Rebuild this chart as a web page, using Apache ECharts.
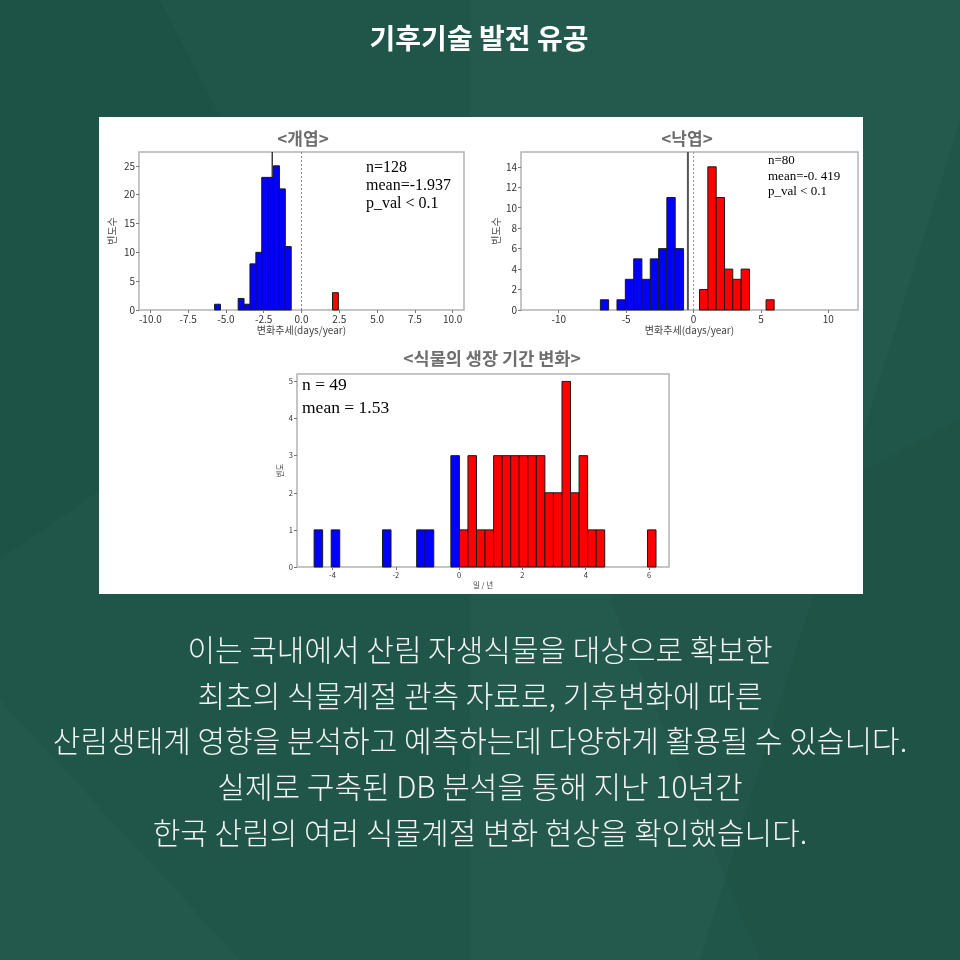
<!DOCTYPE html>
<html><head><meta charset="utf-8">
<script src="https://cdn.jsdelivr.net/npm/echarts@6/dist/echarts.min.js"></script>
<style>html,body{margin:0;padding:0;background:#1f5649}#c{width:960px;height:960px}</style>
</head><body><div id="c"></div>
<script>
// ---------- <개엽> (leaf-out) ----------
const leafOutBlueStart = [-5.75, -4.19, -3.80, -3.41, -3.02, -2.63, -2.24, -1.85, -1.46, -1.07];
const leafOutBlueEnd   = [-5.36, -3.80, -3.41, -3.02, -2.63, -2.24, -1.85, -1.46, -1.07, -0.68];
const leafOutBlueCount = [1, 2, 1, 8, 10, 23, 23, 25, 21, 11];
const leafOutRedStart  = [2.05];
const leafOutRedEnd    = [2.44];
const leafOutRedCount  = [3];
const leafOutMean = -1.937;
const leafOutXTicks = [-10, -7.5, -5, -2.5, 0, 2.5, 5, 7.5, 10];
const leafOutYTicks = [0, 5, 10, 15, 20, 25];
const leafOutStats = ['n=128', 'mean=-1.937', 'p_val < 0.1'];

// ---------- <낙엽> (leaf-fall) ----------
const leafFallBlueStart = [-6.91, -5.68, -5.06, -4.44, -3.83, -3.21, -2.59, -1.98, -1.36];
const leafFallBlueEnd   = [-6.30, -5.06, -4.44, -3.83, -3.21, -2.59, -1.98, -1.36, -0.74];
const leafFallBlueCount = [1, 1, 3, 5, 3, 5, 6, 11, 6];
const leafFallRedStart  = [0.44, 1.06, 1.68, 2.30, 2.91, 3.53, 5.38];
const leafFallRedEnd    = [1.06, 1.68, 2.30, 2.91, 3.53, 4.15, 5.98];
const leafFallRedCount  = [2, 14, 11, 4, 3, 4, 1];
const leafFallMean = -0.419;
const leafFallXTicks = [-10, -5, 0, 5, 10];
const leafFallYTicks = [0, 2, 4, 6, 8, 10, 12, 14];
const leafFallStats = ['n=80', 'mean=-0. 419', 'p_val < 0.1'];

// ---------- <식물의 생장 기간 변화> (growing season) ----------
const growBlueStart = [-4.58, -4.04, -2.42, -1.34, -1.07, -0.26];
const growBlueEnd   = [-4.31, -3.77, -2.15, -1.07, -0.80, 0.01];
const growBlueCount = [1, 1, 1, 1, 1, 3];
const growRedStart  = [0.01, 0.28, 0.55, 0.82, 1.09, 1.36, 1.63, 1.90, 2.17, 2.44, 2.71, 2.98, 3.25, 3.52, 3.79, 4.06, 4.33, 5.95];
const growRedEnd    = [0.28, 0.55, 0.82, 1.09, 1.36, 1.63, 1.90, 2.17, 2.44, 2.71, 2.98, 3.25, 3.52, 3.79, 4.06, 4.33, 4.60, 6.22];
const growRedCount  = [1, 3, 1, 1, 3, 3, 3, 3, 3, 3, 2, 2, 5, 2, 3, 1, 1, 1];
const growXTicks = [-4, -2, 0, 2, 4, 6];
const growYTicks = [0, 1, 2, 3, 4, 5];
const growStats = ['n = 49', 'mean = 1.53'];

// ---------- page text ----------
const pageTitle = '기후기술 발전 유공';
const bodyLines = [
  '이는 국내에서 산림 자생식물을 대상으로 확보한',
  '최초의 식물계절 관측 자료로, 기후변화에 따른',
  '산림생태계 영향을 분석하고 예측하는데 다양하게 활용될 수 있습니다.',
  '실제로 구축된 DB 분석을 통해 지난 10년간',
  '한국 산림의 여러 식물계절 변화 현상을 확인했습니다.'
];

const KR = '"Noto Sans CJK KR", "Noto Sans", sans-serif';
const SERIF = '"Liberation Serif", "DejaVu Serif", serif';

function zip3(a, b, c) { return a.map((v, i) => [v, b[i], c[i]]); }

function barRender(color) {
  return function (params, api) {
    const p0 = api.coord([api.value(0), api.value(2)]);
    const p1 = api.coord([api.value(1), 0]);
    return {
      type: 'rect',
      shape: { x: p0[0], y: p0[1], width: p1[0] - p0[0], height: p1[1] - p0[1] },
      style: { fill: color, stroke: '#1a1a1a', lineWidth: 1 }
    };
  };
}
function vlineRender(color, width, dash) {
  return function (params, api) {
    const cs = params.coordSys;
    const x = api.coord([api.value(0), 0])[0];
    return {
      type: 'line',
      shape: { x1: x, y1: cs.y, x2: x, y2: cs.y + cs.height },
      style: { stroke: color, lineWidth: width, lineDash: dash }
    };
  };
}

function xAxisCfg(gi, min, max, ticks, fmt, fs, name, gap) {
  return {
    type: 'value', gridIndex: gi, min: min, max: max, z: 6, position: 'bottom',
    splitLine: { show: false },
    axisLine: { show: false, onZero: false },
    axisTick: { show: true, inside: false, length: 3, customValues: ticks, lineStyle: { color: '#777' } },
    axisLabel: { show: true, customValues: ticks, formatter: fmt, fontSize: fs, color: '#333', margin: 4, fontFamily: KR },
    name: name, nameLocation: 'middle', nameGap: gap,
    nameTextStyle: { fontSize: fs, color: '#444', fontFamily: KR }
  };
}
function yAxisCfg(gi, max, ticks, fs, name, gap) {
  return {
    type: 'value', gridIndex: gi, min: 0, max: max, z: 6, position: 'left',
    splitLine: { show: false },
    axisLine: { show: false, onZero: false },
    axisTick: { show: true, inside: false, length: 3, customValues: ticks, lineStyle: { color: '#777' } },
    axisLabel: { show: true, customValues: ticks, fontSize: fs, color: '#333', margin: 4, fontFamily: KR },
    name: name, nameLocation: 'middle', nameGap: gap, nameRotate: 90,
    nameTextStyle: { fontSize: fs, color: '#444', fontFamily: KR }
  };
}

const frame = { show: true, borderColor: '#b3b3b3', borderWidth: 1.5, backgroundColor: '#fff' };

const graphics = [];
// background facets
const facets = [
  [[0, 0], [160, 0], [330, 330], [0, 560]],
  [[470, 0], [960, 0], [960, 120], [700, 960], [470, 960]],
  [[1305, 0], [960, 0], [960, 330]],
  [[0, 700], [240, 960], [0, 960]],
  [[610, 600], [960, 420], [960, 960], [760, 960]]
];
const facetFills = ['rgba(0,0,0,0.04)', 'rgba(255,255,255,0.025)', 'rgba(0,0,0,0.04)', 'rgba(255,255,255,0.02)', 'rgba(0,0,0,0.03)'];
facets.forEach((pts, i) => graphics.push({ type: 'polygon', shape: { points: pts }, style: { fill: facetFills[i] }, z: -20, silent: true }));
// white panel
graphics.push({ type: 'rect', shape: { x: 99, y: 117, width: 764, height: 477 }, style: { fill: '#ffffff' }, z: -10, silent: true });
// page title
graphics.push({ type: 'text', x: 479, y: 38, style: { text: pageTitle, fill: '#ffffff', font: 'bold 28px ' + KR, textAlign: 'center', textVerticalAlign: 'middle' }, z: 5 });
// body lines
const bodyY = [650, 696, 741, 787, 833];
bodyLines.forEach((t, i) => graphics.push({ type: 'text', x: 480, y: bodyY[i], style: { text: t, fill: '#f4f4f4', font: '300 30px ' + KR, textAlign: 'center', textVerticalAlign: 'middle' }, z: 5 }));
// chart titles
graphics.push({ type: 'text', x: 303, y: 139, style: { text: '<개엽>', fill: '#6e6e6e', font: 'bold 17px ' + KR, textAlign: 'center', textVerticalAlign: 'middle' }, z: 5 });
graphics.push({ type: 'text', x: 687, y: 139, style: { text: '<낙엽>', fill: '#6e6e6e', font: 'bold 17px ' + KR, textAlign: 'center', textVerticalAlign: 'middle' }, z: 5 });
graphics.push({ type: 'text', x: 492, y: 358, style: { text: '<식물의 생장 기간 변화>', fill: '#6e6e6e', font: 'bold 17.5px ' + KR, textAlign: 'center', textVerticalAlign: 'middle' }, z: 5 });
// stats
leafOutStats.forEach((t, i) => graphics.push({ type: 'text', x: 366, y: 168 + i * 18, style: { text: t, fill: '#000', font: '16px ' + SERIF, textAlign: 'left', textVerticalAlign: 'middle' }, z: 20 }));
leafFallStats.forEach((t, i) => graphics.push({ type: 'text', x: 768, y: 161 + i * 15.5, style: { text: t, fill: '#000', font: '13px ' + SERIF, textAlign: 'left', textVerticalAlign: 'middle' }, z: 20 }));
growStats.forEach((t, i) => graphics.push({ type: 'text', x: 302, y: 385 + i * 23, style: { text: t, fill: '#000', font: '17.5px ' + SERIF, textAlign: 'left', textVerticalAlign: 'middle' }, z: 20 }));

const option = {
  animation: false,
  backgroundColor: '#1f5649',
  graphic: graphics,
  grid: [
    Object.assign({ left: 139, top: 152, width: 325, height: 158 }, frame),
    Object.assign({ left: 521, top: 152, width: 337, height: 158 }, frame),
    Object.assign({ left: 297, top: 374, width: 372, height: 193 }, frame)
  ],
  xAxis: [
    xAxisCfg(0, -10.75, 10.75, leafOutXTicks, v => v.toFixed(1), 10, '변화추세(days/year)', 14),
    xAxisCfg(1, -12.8, 12.2, leafFallXTicks, v => String(v), 10, '변화추세(days/year)', 14),
    xAxisCfg(2, -5.12, 6.63, growXTicks, v => String(v), 7.5, '일 / 년', 14)
  ],
  yAxis: [
    yAxisCfg(0, 27.4, leafOutYTicks, 10, '빈도수', 22),
    yAxisCfg(1, 15.45, leafFallYTicks, 10, '빈도수', 20),
    yAxisCfg(2, 5.2, growYTicks, 7.5, '빈도', 13)
  ],
  series: [
    { type: 'custom', xAxisIndex: 0, yAxisIndex: 0, z: 3, renderItem: vlineRender('#111', 1.2, null), data: [[leafOutMean, 0]] },
    { type: 'custom', xAxisIndex: 0, yAxisIndex: 0, z: 3, renderItem: vlineRender('#888', 1, [2, 2]), data: [[0, 0]] },
    { type: 'custom', xAxisIndex: 0, yAxisIndex: 0, z: 4, renderItem: barRender('#0000ff'), encode: { x: [0, 1], y: 2 }, data: zip3(leafOutBlueStart, leafOutBlueEnd, leafOutBlueCount) },
    { type: 'custom', xAxisIndex: 0, yAxisIndex: 0, z: 4, renderItem: barRender('#ff0000'), encode: { x: [0, 1], y: 2 }, data: zip3(leafOutRedStart, leafOutRedEnd, leafOutRedCount) },

    { type: 'custom', xAxisIndex: 1, yAxisIndex: 1, z: 3, renderItem: vlineRender('#555', 2, null), data: [[leafFallMean, 0]] },
    { type: 'custom', xAxisIndex: 1, yAxisIndex: 1, z: 3, renderItem: vlineRender('#999', 1, [2, 2]), data: [[0, 0]] },
    { type: 'custom', xAxisIndex: 1, yAxisIndex: 1, z: 4, renderItem: barRender('#0000ff'), encode: { x: [0, 1], y: 2 }, data: zip3(leafFallBlueStart, leafFallBlueEnd, leafFallBlueCount) },
    { type: 'custom', xAxisIndex: 1, yAxisIndex: 1, z: 4, renderItem: barRender('#ff0000'), encode: { x: [0, 1], y: 2 }, data: zip3(leafFallRedStart, leafFallRedEnd, leafFallRedCount) },

    { type: 'custom', xAxisIndex: 2, yAxisIndex: 2, z: 4, renderItem: barRender('#0000ff'), encode: { x: [0, 1], y: 2 }, data: zip3(growBlueStart, growBlueEnd, growBlueCount) },
    { type: 'custom', xAxisIndex: 2, yAxisIndex: 2, z: 4, renderItem: barRender('#ff0000'), encode: { x: [0, 1], y: 2 }, data: zip3(growRedStart, growRedEnd, growRedCount) }
  ]
};
const chart = echarts.init(document.getElementById('c'), null, { renderer: 'canvas' });
chart.setOption(option);
</script></body></html>
